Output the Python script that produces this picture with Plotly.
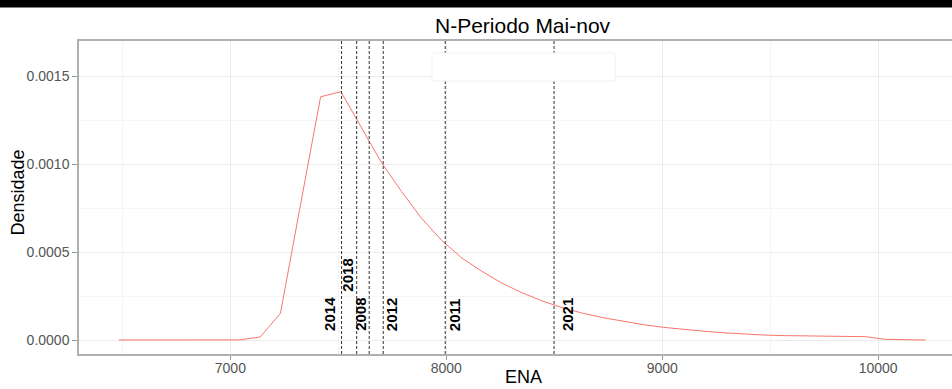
import plotly.graph_objects as go

# ---- data ----
ena = [6484, 6577, 6671, 6764, 6858, 6951, 7045, 7138, 7232, 7325, 7418, 7512,
       7605, 7698, 7792, 7885, 7979, 8072, 8165, 8259, 8352, 8446, 8539, 8632,
       8726, 8819, 8913, 9006, 9099, 9193, 9286, 9380, 9473, 9567, 9660, 9753,
       9847, 9940, 10033, 10126, 10219]
densidade = [0, 0, 0, 0, 0, 0, 0.000001, 0.000017, 0.000152, 0.00077, 0.001382, 0.001411,
             0.001214, 0.001012, 0.000845, 0.000692, 0.000566, 0.000466, 0.000390, 0.000322,
             0.000268, 0.000221, 0.000183, 0.000152, 0.000127, 0.000105, 0.000087, 0.000072,
             0.00006, 0.00005, 0.000041, 0.000034, 0.000028, 0.000025, 0.000023, 0.000021,
             0.00002, 0.000019, 0.000004, 0.000001, 0.0]

anos = ["2014", "2018", "2008", "2012", "2011", "2021"]
anos_x = [7515, 7585, 7643, 7708, 7995, 8499]          # dashed vertical lines
rotulo_x = [7461, 7545, 7602, 7747, 8039, 8562]         # label positions
rotulo_y = [0.00004, 0.000261, 0.00004, 0.00004, 0.00004, 0.00004]

x_ticks = [7000, 8000, 9000, 10000]
y_ticks = [0.0, 0.0005, 0.0010, 0.0015]
y_tick_text = ["0.0000", "0.0005", "0.0010", "0.0015"]

titulo = "N-Periodo Mai-nov"
x_titulo = "ENA"
y_titulo = "Densidade"

FONT = "Liberation Sans, Arial, Helvetica, sans-serif"
W, H = 952, 389
ML, MR, MT, MB = 79, 0, 41, 35
PW, PH = W - ML - MR, H - MT - MB

fig = go.Figure()
fig.add_trace(go.Scatter(x=ena, y=densidade, mode="lines",
                         line=dict(color="#F8766D", width=1), showlegend=False,
                         hoverinfo="skip"))

shapes = []
for xv in anos_x:
    shapes.append(dict(type="line", xref="x", yref="paper", x0=xv, x1=xv, y0=0, y1=1,
                       line=dict(color="#333333", width=1, dash="3px,2px")))
# blank (erased) box in the upper panel
shapes.append(dict(type="rect", xref="paper", yref="paper",
                   x0=(432 - ML) / PW, x1=(615 - ML) / PW,
                   y0=1 - (81 - MT) / PH, y1=1 - (53 - MT) / PH,
                   fillcolor="white", line=dict(color="#f2f2f2", width=1), layer="above"))
# black band at the top of the image
shapes.append(dict(type="rect", xref="paper", yref="paper",
                   x0=-ML / PW, x1=1.01, y0=1 + (MT - 7.5) / PH, y1=1 + MT / PH + 0.01,
                   fillcolor="black", line=dict(width=0), layer="above"))

annotations = []
for txt, xv, yv in zip(anos, rotulo_x, rotulo_y):
    annotations.append(dict(text="<b>%s</b>" % txt, x=xv, y=yv, xref="x", yref="y",
                            textangle=-90, showarrow=False, xanchor="center", yanchor="bottom",
                            font=dict(family=FONT, size=15, color="black")))
# title and axis titles
annotations.append(dict(text=titulo, xref="paper", yref="paper",
                        x=(523 - ML) / PW, y=1 + (MT - 25) / PH, xanchor="center", yanchor="middle",
                        showarrow=False, font=dict(family=FONT, size=21, color="black")))
annotations.append(dict(text=x_titulo, xref="paper", yref="paper",
                        x=(523 - ML) / PW, y=-(388.5 - MT - PH) / PH, xanchor="center", yanchor="bottom",
                        showarrow=False, font=dict(family=FONT, size=18, color="black")))
annotations.append(dict(text=y_titulo, xref="paper", yref="paper", textangle=-90,
                        x=-(ML - 17.5) / PW, y=1 - (193 - MT) / PH, xanchor="center", yanchor="middle",
                        showarrow=False, font=dict(family=FONT, size=18, color="black")))

fig.update_layout(
    width=W, height=H,
    margin=dict(l=ML, r=MR, t=MT, b=MB, pad=0),
    paper_bgcolor="white", plot_bgcolor="white",
    font=dict(family=FONT),
    shapes=shapes, annotations=annotations,
    showlegend=False,
    xaxis=dict(range=[6299, 10342], tickvals=x_ticks, ticktext=[str(v) for v in x_ticks],
               showgrid=True, gridcolor="#ebebeb", gridwidth=1,
               minor=dict(tickvals=[6500, 7500, 8500, 9500], showgrid=True,
                          gridcolor="#f5f5f5", gridwidth=1, ticks=""),
               showline=True, linecolor="#b0b0b0", linewidth=1.5, mirror=True,
               ticks="outside", ticklen=4, tickcolor="#999999", tickwidth=1,
               ticklabelstandoff=-4,
               tickfont=dict(family=FONT, size=14, color="#555555"), zeroline=False),
    yaxis=dict(range=[-0.0000795, 0.001699], tickvals=y_ticks, ticktext=y_tick_text,
               showgrid=True, gridcolor="#ebebeb", gridwidth=1,
               minor=dict(tickvals=[0.00025, 0.00075, 0.00125], showgrid=True,
                          gridcolor="#f5f5f5", gridwidth=1, ticks=""),
               showline=True, linecolor="#b0b0b0", linewidth=1.5, mirror=False,
               ticks="outside", ticklen=5, tickcolor="#999999", tickwidth=1,
               tickfont=dict(family=FONT, size=14, color="#555555"), zeroline=False),
)

fig.write_html("out.html", config={"displayModeBar": False})
